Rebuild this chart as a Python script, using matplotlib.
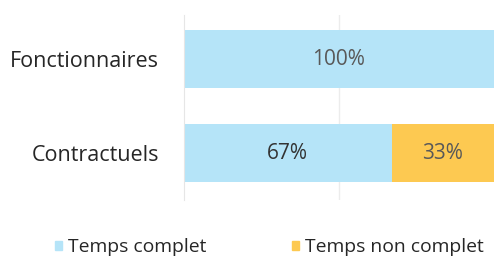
import matplotlib.pyplot as plt
from matplotlib.patches import Patch

categories = ["Contractuels", "Fonctionnaires"]
temps_complet = [67, 100]
temps_non_complet = [33, 0]
series_names = ["Temps complet", "Temps non complet"]

blue = "#b5e4f8"
orange = "#fdc951"

plt.rcParams["font.family"] = ["Open Sans", "DejaVu Sans"]

fig = plt.figure(figsize=(4.97, 2.59), dpi=100)
ax = fig.add_axes([184 / 497, 1 - 200 / 259, 310 / 497, 185 / 259])

y = list(range(len(categories)))
ax.barh(y, temps_complet, height=0.62, color=blue, zorder=2)
ax.barh(y, temps_non_complet, left=temps_complet, height=0.62, color=orange, zorder=2)

for i in y:
    ax.text(temps_complet[i] / 2, i, f"{temps_complet[i]}%", ha="center", va="center",
            fontsize=15, color="#333333" if temps_non_complet[i] else "#595959")
    if temps_non_complet[i]:
        ax.text(temps_complet[i] + temps_non_complet[i] / 2, i, f"{temps_non_complet[i]}%",
                ha="center", va="center", fontsize=15, color="#595959")

ax.set_xlim(0, 100)
ax.set_ylim(-0.5, 1.47)
ax.set_yticks(y)
ax.set_yticklabels(categories, fontsize=15.5, color="#262626")
ax.set_xticks([50])
ax.xaxis.grid(True, color="#ececec", linewidth=1, zorder=0)
ax.tick_params(axis="both", length=0, pad=18)
ax.set_xticklabels([])
for side in ["top", "right", "bottom"]:
    ax.spines[side].set_visible(False)
ax.spines["left"].set_color("#e6e6e6")

handles = [Patch(color=blue), Patch(color=orange)]
fig.legend(handles, series_names, loc="center left", bbox_to_anchor=(0.075, 0.045), ncol=2,
           frameon=False, fontsize=13.9, handlelength=0.4, handleheight=0.4,
           handletextpad=0.3, columnspacing=4.4, labelcolor="#262626")

fig.savefig("out.png", dpi=100)
